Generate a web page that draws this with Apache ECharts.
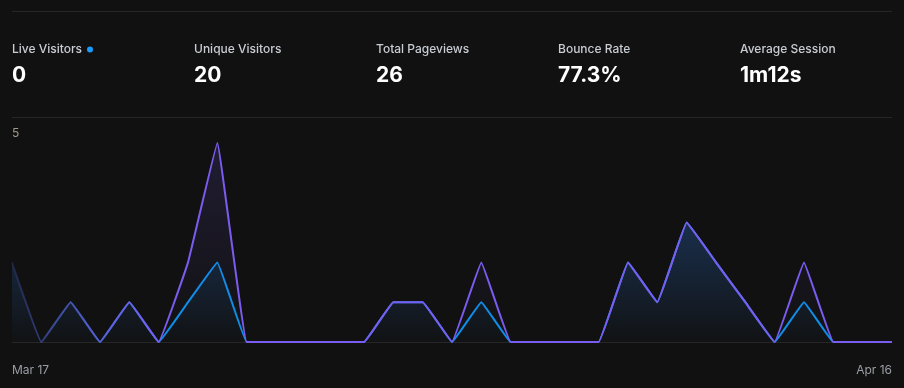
<!DOCTYPE html>
<html>
<head>
<meta charset="utf-8">
<style>
  html, body { margin: 0; padding: 0; background: #111111; }
  #chart { width: 904px; height: 388px; }
</style>
<script src="https://cdn.jsdelivr.net/npm/echarts@6/dist/echarts.min.js"></script>
</head>
<body>
<div id="chart"></div>
<script>
const categories = ['Mar 17','Mar 18','Mar 19','Mar 20','Mar 21','Mar 22','Mar 23','Mar 24','Mar 25','Mar 26','Mar 27','Mar 28','Mar 29','Mar 30','Mar 31','Apr 1','Apr 2','Apr 3','Apr 4','Apr 5','Apr 6','Apr 7','Apr 8','Apr 9','Apr 10','Apr 11','Apr 12','Apr 13','Apr 14','Apr 15','Apr 16'];
const visitors  = [2,0,1,0,1,0,1,2,0,0,0,0,0,1,1,0,1,0,0,0,0,2,1,3,2,1,0,1,0,0,0];
const pageviews = [2,0,1,0,1,0,2,5,0,0,0,0,0,1,1,0,2,0,0,0,0,2,1,3,2,1,0,2,0,0,0];
const statLabels = ['Live Visitors','Unique Visitors','Total Pageviews','Bounce Rate','Average Session'];
const statValues = ['0','20','26','77.3%','1m12s'];
const yTickLabels = ['5'];

const PURPLE = '#7b5cf0';
const BLUE = '#0b8fe8';
const FONT = 'Inter, "Noto Sans", sans-serif';

const chart = echarts.init(document.getElementById('chart'), null, { renderer: 'canvas' });

const graphics = [
  { type: 'line', shape: { x1: 12, y1: 11.5, x2: 892, y2: 11.5 }, style: { stroke: '#262626', lineWidth: 1 } },
  { type: 'line', shape: { x1: 12, y1: 117.5, x2: 892, y2: 117.5 }, style: { stroke: '#262626', lineWidth: 1 } },
  { type: 'circle', shape: { cx: 90, cy: 49.5, r: 3 }, style: { fill: '#1a9bff' } }
];
statLabels.forEach((lab, i) => {
  const x = 12 + i * 182;
  graphics.push({ type: 'text', x: x, y: 49.5, style: { text: lab, fill: '#c8ccd3', font: '500 12px ' + FONT, verticalAlign: 'middle', align: 'left' } });
  graphics.push({ type: 'text', x: x, y: 75.5, style: { text: statValues[i], fill: '#ffffff', font: '700 21px ' + FONT, verticalAlign: 'middle', align: 'left' } });
});

function fadeLine(color, a0) {
  return new echarts.graphic.LinearGradient(0, 0, 1, 0, [
    { offset: 0, color: echarts.color.modifyAlpha(color, a0) },
    { offset: 0.16, color: color },
    { offset: 1, color: color }
  ]);
}

chart.setOption({
  backgroundColor: '#111111',
  animation: false,
  graphic: graphics,
  grid: { left: 12, right: 12, top: 143, bottom: 46 },
  xAxis: {
    type: 'category',
    data: categories,
    boundaryGap: false,
    axisLine: { show: true, lineStyle: { color: '#262626', width: 1 } },
    axisTick: { show: false },
    splitLine: { show: false },
    axisLabel: {
      color: '#9a9ea5',
      fontSize: 12,
      fontFamily: FONT,
      margin: 22,
      interval: (idx) => idx === 0 || idx === categories.length - 1,
      alignMinLabel: 'left',
      alignMaxLabel: 'right'
    }
  },
  yAxis: {
    type: 'value',
    min: 0,
    max: 5,
    interval: 5,
    axisLine: { show: false },
    axisTick: { show: false },
    splitLine: { show: false },
    axisLabel: {
      inside: true,
      margin: 0,
      color: '#a0998c',
      fontSize: 12,
      fontFamily: FONT,
      verticalAlign: 'bottom',
      padding: [0, 0, 4, 0],
      formatter: (v) => (yTickLabels.indexOf(String(v)) >= 0 ? String(v) : '')
    }
  },
  series: [
    {
      name: 'Visitors',
      type: 'line',
      data: visitors,
      smooth: 0.06,
      showSymbol: false,
      lineStyle: { width: 2, color: fadeLine(BLUE, 0.0) },
      areaStyle: {
        color: new echarts.graphic.LinearGradient(0, 0, 0, 1, [
          { offset: 0, color: 'rgba(11,143,232,0.28)' },
          { offset: 1, color: 'rgba(11,143,232,0.02)' }
        ])
      },
      z: 2
    },
    {
      name: 'Pageviews',
      type: 'line',
      data: pageviews,
      smooth: 0.06,
      showSymbol: false,
      lineStyle: { width: 2, color: fadeLine(PURPLE, 0.12) },
      areaStyle: {
        color: new echarts.graphic.LinearGradient(0, 0, 0, 1, [
          { offset: 0, color: 'rgba(123,92,240,0.22)' },
          { offset: 1, color: 'rgba(123,92,240,0.0)' }
        ])
      },
      z: 3
    }
  ]
});
</script>
</body>
</html>
